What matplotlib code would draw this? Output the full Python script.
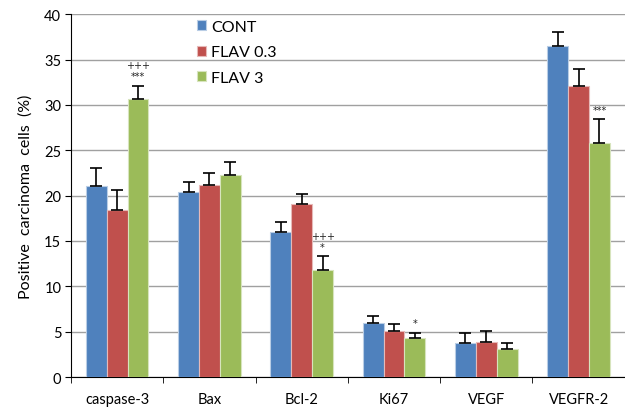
import matplotlib
matplotlib.use("Agg")
import matplotlib.pyplot as plt
import numpy as np

categories = ["caspase-3", "Bax", "Bcl-2", "Ki67", "VEGF", "VEGFR-2"]
series_names = ["CONT", "FLAV 0.3", "FLAV 3"]
cont = [21.1, 20.4, 16.0, 6.0, 3.8, 36.5]
flav03 = [18.4, 21.2, 19.1, 5.1, 3.9, 32.1]
flav3 = [30.6, 22.3, 11.8, 4.3, 3.1, 25.8]
cont_err = [1.9, 1.1, 1.1, 0.7, 1.1, 1.5]
flav03_err = [2.2, 1.3, 1.1, 0.7, 1.2, 1.9]
flav3_err = [1.5, 1.4, 1.5, 0.6, 0.6, 2.6]
flav3_marks = ["+++\n***", "", "+++\n*", "*", "", "***"]
yticks = [0, 5, 10, 15, 20, 25, 30, 35, 40]

colors = ["#4F81BD", "#C0504D", "#9BBB59"]
edges = ["#B9CDE5", "#E6B9B8", "#D7E4BD"]

plt.rcParams['font.family'] = ['Lato', 'DejaVu Sans']
fig = plt.figure(figsize=(6.25, 4.1), dpi=100)
ax = fig.add_axes([0.1136, 0.078, 0.886, 0.885])

x = np.arange(len(categories))
w = 0.226
vals = [cont, flav03, flav3]
errs = [cont_err, flav03_err, flav3_err]
for i, (v, e) in enumerate(zip(vals, errs)):
    pos = x + (i - 1) * w
    ax.bar(pos, v, width=w, color=colors[i], edgecolor=edges[i], linewidth=0.8,
           label=series_names[i], zorder=3)
    ax.errorbar(pos, v, yerr=[np.zeros(len(e)), e], fmt='none', ecolor='black',
                elinewidth=1.2, capsize=4, capthick=1.2, zorder=4)

for j, m in enumerate(flav3_marks):
    if m:
        ax.text(x[j] + w, flav3[j] + flav3_err[j] + 0.5, m, ha='center', va='bottom',
                fontsize=7, linespacing=1.15, family='DejaVu Sans', color='#222222')

ax.set_xlim(-0.5, len(categories) - 0.5)
ax.set_ylim(0, 40)
ax.set_yticks(yticks)
ax.set_yticklabels([str(t) for t in yticks], fontsize=10.5)
ax.yaxis.grid(True, color='#A0A0A0', linewidth=1.0, zorder=0)
ax.set_axisbelow(True)
ax.set_xticks(x)
ax.set_xticklabels(categories, fontsize=10.5)
ax.tick_params(axis='x', length=0, pad=11)
ax.set_xticks(np.arange(len(categories) + 1) - 0.5, minor=True)
ax.tick_params(axis='x', which='minor', length=4, direction='out', color='black')
ax.tick_params(axis='y', length=4, direction='out', color='black', pad=3)
for s in ['top', 'right']:
    ax.spines[s].set_visible(False)
ax.spines['left'].set_color('black')
ax.spines['bottom'].set_color('black')
ax.set_ylabel("Positive  carcinoma  cells  (%)", fontsize=11.5, labelpad=8)

ax.legend(loc='upper left', bbox_to_anchor=(0.227, 0.984), frameon=False, fontsize=11.5,
          handlelength=0.6, handleheight=0.6, handletextpad=0.3, labelspacing=0.72,
          borderaxespad=0, borderpad=0)

fig.savefig("out.png", dpi=100)
